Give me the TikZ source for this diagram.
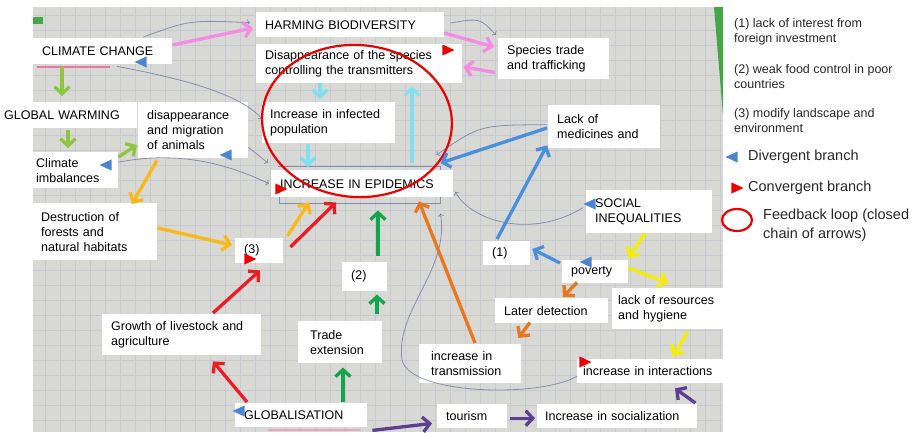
\documentclass[tikz,border=0pt]{standalone}
\usepackage{fontspec}
\setmainfont{Liberation Sans}
\usetikzlibrary{shapes,positioning,arrows.meta,calc}
\definecolor{paper}{RGB}{216,216,213}
\definecolor{gridc}{RGB}{200,202,209}
\definecolor{pencil}{RGB}{100,112,160}
\definecolor{pinkarr}{RGB}{244,140,230}
\definecolor{lgreen}{RGB}{141,198,63}
\definecolor{goldarr}{RGB}{251,185,23}
\definecolor{redarr}{RGB}{237,28,36}
\definecolor{dgreen}{RGB}{19,165,75}
\definecolor{cyanarr}{RGB}{128,224,238}
\definecolor{bluearr}{RGB}{74,143,220}
\definecolor{orangearr}{RGB}{232,119,30}
\definecolor{yellowarr}{RGB}{245,238,0}
\definecolor{purplearr}{RGB}{92,63,143}
\definecolor{divblue}{RGB}{72,134,208}
\definecolor{convred}{RGB}{236,0,0}
\definecolor{markgreen}{RGB}{70,165,70}
\definecolor{markpink}{RGB}{232,120,170}
\tikzstyle{box}=[fill=white, anchor=north west, inner xsep=9pt, inner ysep=2pt, align=left, font=\fontsize{12.5}{15}\selectfont]
\tikzstyle{arr}=[line width=3.3pt, -{Straight Barb[length=7pt,width=15pt]}]
\tikzstyle{divg}=[isosceles triangle, isosceles triangle stretches, shape border rotate=180, minimum width=11pt, minimum height=12pt, inner sep=0pt, fill=divblue]
\tikzstyle{conv}=[isosceles triangle, isosceles triangle stretches, minimum width=11pt, minimum height=12pt, inner sep=0pt, fill=convred]
\tikzstyle{pen}=[pencil, line width=0.8pt, opacity=0.7, -{To[length=3pt]}]
\tikzstyle{leg}=[anchor=north west, inner sep=0pt, align=left, text=black!85, font=\fontsize{12.5}{15}\selectfont]

\begin{document}
\begin{tikzpicture}[x=1pt,y=-1pt]
\useasboundingbox (0,0) rectangle (918,432);

% photo of the grid paper
\fill[paper] (33,7) rectangle (723,432);
\draw[gridc, line width=0.5pt, step=15pt] (33,7) grid (723,432);
\fill[markgreen] (33,17) rectangle (43,24);
\fill[markgreen] (714,7) -- (723,7) -- (723,115) -- cycle;
\draw[markpink, line width=2pt] (37,67) -- (110,67);
\draw[markpink!70, line width=2.5pt] (268,430) -- (360,430);

% boxes
\node[box, text width=121pt, minimum height=26pt] (cc) at (33,38) {CLIMATE CHANGE};
\node[box, text width=170pt, minimum height=25pt] (hb) at (256,12) {HARMING BIODIVERSITY};
\node[box, text width=188pt, minimum height=39pt] (ds) at (256,44) {Disappearance of the species\\controlling the transmitters};
\node[box, text width=93pt, minimum height=41pt] (st) at (498,38) {Species trade\\and trafficking};
\node[box, inner xsep=4pt, text width=129pt, minimum height=26pt] (gw) at (0,102) {GLOBAL WARMING};
\node[box, text width=92pt, minimum height=56pt] (dm) at (138,102) {disappearance\\and migration\\of animals};
\node[box, inner xsep=3pt, text width=79pt, minimum height=36pt] (ci) at (33,152) {Climate\\imbalances};
\node[box, inner xsep=8pt, text width=117pt, minimum height=41pt] (ip) at (262,102) {Increase in infected\\population};
\node[box, text width=164pt, minimum height=27pt] (ep) at (271,170) {INCREASE IN EPIDEMICS};
\node[box, text width=94pt, minimum height=43pt] (lm) at (548,105) {Lack of\\medicines and};
\node[box, text width=108pt, minimum height=43pt] (si) at (586,190) {SOCIAL\\INEQUALITIES};
\node[box, inner xsep=8pt, text width=108pt, minimum height=57pt] (df) at (33,203) {Destruction of\\forests and\\natural habitats};
\node[box, text width=30pt, minimum height=25pt] (b3) at (235,238) {(3)};
\node[box, text width=27pt, minimum height=29pt] (b2) at (342,262) {(2)};
\node[box, text width=29pt, minimum height=24pt] (b1) at (483,241) {(1)};
\node[box, text width=48pt, minimum height=23pt] (pv) at (562,260) {poverty};
\node[box, text width=95pt, minimum height=25pt] (ld) at (495,298) {Later detection};
\node[box, inner xsep=6pt, text width=99pt, minimum height=41pt] (lr) at (612,288) {lack of resources\\and hygiene};
\node[box, text width=141pt, minimum height=41pt] (gl) at (102,314) {Growth of livestock and\\agriculture};
\node[box, inner xsep=12pt, text width=60pt, minimum height=42pt] (te) at (298,321) {Trade\\extension};
\node[box, inner xsep=12pt, text width=78pt, minimum height=39pt] (it) at (419,344) {increase in\\transmission};
\node[box, inner xsep=6pt, text width=134pt, minimum height=24pt] (ii) at (577,359) {increase in interactions};
\node[box, text width=114pt, minimum height=24pt] (gb) at (235,403) {GLOBALISATION};
\node[box, text width=52pt, minimum height=24pt] (to) at (437,404) {tourism};
\node[box, inner xsep=8pt, text width=144pt, minimum height=24pt] (is) at (537,404) {Increase in socialization};

% pencil marks on the paper
\draw[pen] ($(cc.north east)+(-29,-1)$) .. controls (190,20) .. ($(hb.west)+(-6,-2)$);
\draw[pen] ($(cc.south west)+(84,2)$) .. controls (190,80) and (240,95) .. ($(ip.west)+(0,-4)$);
\draw[pen] ($(ci.east)+(0,-8)$) .. controls (180,150) and (230,165) .. ($(ep.west)+(-2,0)$);
\draw[pen] ($(dm.south east)+(0,-11)$) -- ($(ep.north west)+(-3,-7)$);
\draw[pen] ($(hb.north east)+(6,11)$) .. controls (480,18) .. ($(st.north west)+(-2,-3)$);
\draw[pen] ($(lm.west)+(-1,-2)$) .. controls (480,125) .. ($(ep.north east)+(-17,-15)$);
\draw[pen] ($(si.west)+(-3,-4)$) .. controls (530,240) and (470,220) .. ($(ep.east)+(2,8)$);
\draw[pen] ($(ii.west)+(0,5)$) .. controls (540,398) and (410,395) .. (402,360) .. controls (395,310) and (450,270) .. ($(ep.south east)+(-13,16)$);
\draw[pencil, line width=0.8pt, opacity=0.7] ($(ep.north west)+(7,-4)$) -- ($(ep.north east)+(-13,-4)$) -- ++(0,4);
\draw[pencil, line width=0.8pt, opacity=0.7] ($(ep.south west)+(8,0)$) -- ++(0,6) -- ($(ep.south east)+(-13,6)$) -- ++(0,-6);

% feedback loop
\draw[convred, line width=2.2pt] (357,121) ellipse [x radius=95, y radius=76, rotate=-4];

% arrows
\draw[arr, pinkarr] ($(cc.north east)+(0,7)$) -- ($(hb.north west)+(-3,16)$);
\draw[arr, pinkarr] ($(hb.north east)+(0,21)$) -- ($(st.north west)+(-4,9)$);
\draw[arr, pinkarr] ($(st.south west)+(-3,-7)$) -- ($(ds.north east)+(1,23)$);
\draw[arr, lgreen] ($(cc.south west)+(29,3)$) -- ($(gw.north west)+(62,-6)$);
\draw[arr, lgreen] ($(gw.south west)+(68,2)$) -- ($(ci.north west)+(35,-4)$);
\draw[arr, lgreen] ($(ci.north east)+(0,5)$) -- ($(dm.north west)+(-1,43)$);
\draw[arr, goldarr] ($(dm.south west)+(19,2)$) -- ($(df.north west)+(99,1)$);
\draw[arr, goldarr] ($(df.north east)+(0,25)$) -- ($(b3.north west)+(-3,7)$);
\draw[arr, goldarr] ($(b3.north east)+(4,-2)$) -- ($(ep.south west)+(38,5)$);
\draw[arr, redarr] ($(b3.north east)+(7,9)$) -- ($(ep.south west)+(65,5)$);
\draw[arr, redarr] ($(gl.north west)+(111,-1)$) -- ($(b3.south west)+(25,7)$);
\draw[arr, redarr] ($(gb.north west)+(12,-1)$) -- ($(gl.south west)+(111,6)$);
\draw[arr, dgreen] ($(b2.north west)+(36,-6)$) -- ($(ep.south west)+(107,13)$);
\draw[arr, dgreen] ($(te.north west)+(79,-7)$) -- ($(b2.south west)+(35,3)$);
\draw[arr, dgreen] ($(gb.north west)+(108,-1)$) -- ($(te.south west)+(45,4)$);
\draw[arr, cyanarr] ($(ds.south west)+(64,0)$) -- ($(ip.north west)+(58,-3)$);
\draw[arr, cyanarr] ($(ip.south west)+(46,1)$) -- ($(ep.north west)+(37,-3)$);
\draw[arr, cyanarr] ($(ep.north west)+(141,-7)$) -- ($(ds.south west)+(156,3)$);
\draw[arr, bluearr] ($(lm.north west)+(-1,23)$) -- ($(ep.north east)+(-13,-7)$);
\draw[arr, bluearr] ($(b1.north west)+(14,-2)$) -- ($(lm.south west)+(-1,-3)$);
\draw[arr, bluearr] ($(pv.north west)+(-2,3)$) -- ($(b1.north east)+(2,8)$);
\draw[arr, orangearr] ($(it.north west)+(56,-1)$) -- ($(ep.south west)+(148,4)$);
\draw[arr, orangearr] ($(pv.south west)+(15,-1)$) -- ($(ld.north west)+(68,-1)$);
\draw[arr, orangearr] ($(ld.south west)+(35,-1)$) -- ($(it.north east)+(-3,-6)$);
\draw[arr, yellowarr] ($(si.south west)+(59,0)$) -- ($(pv.north east)+(0,-2)$);
\draw[arr, yellowarr] ($(pv.north east)+(0,8)$) -- ($(lr.north west)+(56,-5)$);
\draw[arr, yellowarr] ($(lr.south west)+(76,2)$) -- ($(ii.north west)+(96,-3)$);
\draw[arr, purplearr] ($(gb.south east)+(5,3)$) -- ($(to.south west)+(-5,-5)$);
\draw[arr, purplearr] ($(to.east)+(3,2)$) -- ($(is.west)+(-2,2)$);
\draw[arr, purplearr] ($(is.north east)+(-2,-1)$) -- ($(ii.south west)+(98,5)$);

% branch marks
\node[divg] (dv1) at (143,62) {};
\node[divg] (dv2) at (228,155) {};
\node[divg] (dv3) at (108,165) {};
\node[divg] (dv4) at (592,204) {};
\node[divg] (dv5) at (588,262) {};
\node[divg] (dv6) at (241,411) {};
\node[conv] (cv1) at (446,50) {};
\node[conv] (cv2) at (279,189) {};
\node[conv] (cv3) at (248,259) {};
\node[conv] (cv4) at (583,362) {};

% legend
\node[leg] (n1) at (734,18) {(1) lack of interest from\\foreign investment};
\node[leg] (n2) at (734,64) {(2) weak food control in poor\\countries};
\node[leg] (n3) at (734,108) {(3) modify landscape and\\environment};
\node[divg] (ldv) at (734,157) {};
\node[leg, anchor=west, font=\fontsize{14.5}{17}\selectfont] (ldiv) at (748,157) {Divergent branch};
\node[conv] (lcv) at (735,188) {};
\node[leg, anchor=west, font=\fontsize{14.5}{17}\selectfont] (lconv) at (748,188) {Convergent branch};
\draw[convred, line width=2.2pt] (737,220) ellipse [x radius=15, y radius=11];
\node[leg, font=\fontsize{14.5}{19}\selectfont] (lloop) at (763,209) {Feedback loop (closed\\chain of arrows)};

\end{tikzpicture}
\end{document}
